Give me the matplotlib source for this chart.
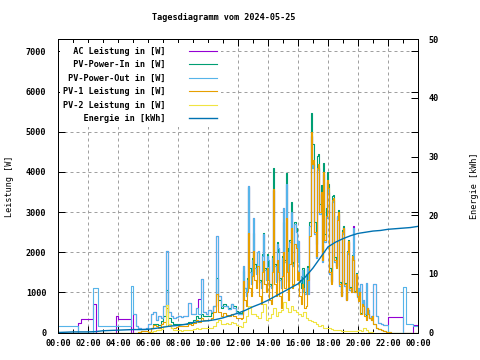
import matplotlib
matplotlib.use('Agg')
import matplotlib.pyplot as plt
import numpy as np

# Power samples: 10 min steps 00:00-12:00, 5 min steps 12:00-21:00,
# 10 min steps 21:00-24:00 (one row per hour)
ac_power = [
    0, 0, 0, 0, 0, 0,
    0, 0, 230, 340, 340, 340,
    340, 340, 700, 0, 0, 0,
    0, 0, 0, 0, 0, 400,
    340, 340, 340, 340, 340, 0,
    450, 150, 100, 80, 80, 100,
    200, 450, 500, 320, 400, 350,
    650, 2025, 500, 400, 360, 380,
    400, 380, 420, 400, 730, 450,
    450, 600, 830, 1320, 500, 450,
    570, 520, 650, 2400, 900, 650,
    650, 650, 580, 700, 620, 480,
    # 12:00 - 21:00
    450, 450, 450, 450, 1650, 1100, 900, 1300, 3650, 1500, 1200, 1800,
    2860, 1600, 1450, 2000, 2025, 1250, 1100, 1900, 2450, 1550, 1300, 1900,
    1800, 1150, 1100, 1850, 3550, 1650, 1250, 2200, 2100, 1300, 1100, 1850,
    3100, 1750, 3700, 2000, 1250, 2250, 3000, 1650, 1700, 2700, 2500, 1750,
    2275, 1250, 1400, 1550, 1000, 950, 1450, 1600, 950, 2650, 4900, 4100,
    4200, 2450, 1850, 4050, 4100, 2950, 3450, 1750, 3950, 2250, 2850, 3750,
    3500, 1450, 1250, 3250, 3300, 1750, 1650, 2900, 2950, 1150, 920, 2450,
    2600, 1150, 820, 1950, 2250, 1050, 1000, 1850, 2650, 1000, 1450, 880,
    1100, 1000, 1200, 720, 800, 450, 1225, 600, 550, 350, 400, 420,
    # 21:00 - 24:00
    1200, 400, 230, 200, 175, 175,
    380, 380, 380, 380, 380, 380,
    0, 0, 0, 0, 190, 190,
    190,
]
pv_power_in = [
    0, 0, 0, 0, 0, 0,
    0, 0, 0, 0, 0, 0,
    0, 0, 0, 0, 0, 0,
    0, 0, 0, 0, 0, 0,
    0, 0, 0, 0, 0, 0,
    0, 0, 20, 40, 40, 30,
    20, 110, 220, 210, 180, 280,
    400, 1070, 350, 250, 200, 200,
    200, 210, 210, 210, 260, 230,
    310, 400, 350, 470, 400, 400,
    420, 480, 650, 1360, 820, 600,
    700, 660, 600, 710, 650, 540,
    # 12:00 - 21:00
    510, 490, 470, 500, 1525, 1100, 1000, 1350, 3625, 1600, 1350, 1850,
    2475, 1700, 1500, 2000, 2000, 1300, 1200, 1950, 2475, 1600, 1300, 1950,
    1650, 1200, 1150, 1900, 4100, 1700, 1300, 2250, 2000, 1350, 1150, 1900,
    2750, 1800, 3980, 2100, 1300, 2300, 3250, 1700, 1750, 2750, 2600, 1800,
    1950, 1300, 1100, 1600, 1600, 1000, 1000, 1650, 1600, 2750, 5475, 4700,
    4700, 2750, 2200, 4400, 4450, 3200, 3680, 2000, 4220, 2450, 3100, 4000,
    3700, 1600, 1280, 3400, 3420, 1870, 1660, 2870, 3050, 1250, 940, 2550,
    2640, 1230, 830, 2040, 2300, 1130, 1040, 1940, 1840, 1040, 1480, 930,
    840, 1040, 490, 740, 750, 460, 360, 620, 470, 360, 310, 410,
    # 21:00 - 24:00
    220, 120, 80, 60, 30, 20,
    10, 0, 0, 0, 0, 0,
    0, 0, 0, 0, 0, 0,
    0,
]
pv_power_out = [
    170, 170, 170, 170, 170, 170,
    170, 170, 0, 0, 0, 0,
    0, 0, 1110, 1100, 170, 170,
    170, 170, 170, 170, 170, 170,
    170, 170, 170, 170, 170, 1150,
    450, 150, 100, 80, 80, 100,
    200, 450, 500, 320, 400, 350,
    650, 2025, 500, 400, 360, 380,
    400, 380, 420, 400, 730, 450,
    450, 600, 450, 1320, 500, 450,
    570, 520, 650, 2400, 900, 650,
    650, 650, 580, 700, 620, 480,
    # 12:00 - 21:00
    450, 450, 450, 450, 1650, 1100, 900, 1300, 3650, 1500, 1200, 1800,
    2860, 1600, 1450, 2000, 2025, 1250, 1100, 1900, 2450, 1550, 1300, 1900,
    1800, 1150, 1100, 1850, 3550, 1650, 1250, 2200, 2100, 1300, 1100, 1850,
    3100, 1750, 3700, 2000, 1250, 2250, 3000, 1650, 1700, 2700, 2500, 1750,
    2275, 1250, 1400, 1550, 1000, 950, 1450, 1600, 950, 2650, 4900, 4100,
    4200, 2450, 1850, 4050, 4100, 2950, 3450, 1750, 3950, 2250, 2850, 3750,
    3500, 1450, 1250, 3250, 3300, 1750, 1650, 2900, 2950, 1150, 920, 2450,
    2600, 1150, 820, 1950, 2250, 1050, 1000, 1850, 2600, 1000, 1450, 880,
    1100, 1000, 1200, 720, 800, 450, 1225, 600, 550, 350, 400, 420,
    # 21:00 - 24:00
    1200, 400, 230, 200, 175, 175,
    0, 0, 0, 0, 0, 0,
    1140, 210, 210, 210, 170, 170,
    170,
]
pv1_power = [
    0, 0, 0, 0, 0, 0,
    0, 0, 0, 0, 0, 0,
    0, 0, 0, 0, 0, 0,
    0, 0, 0, 0, 0, 0,
    0, 0, 0, 0, 0, 0,
    0, 0, 20, 40, 40, 30,
    20, 100, 180, 150, 120, 200,
    250, 600, 150, 110, 120, 140,
    150, 170, 160, 150, 200, 180,
    230, 300, 260, 350, 300, 300,
    320, 360, 500, 950, 520, 400,
    480, 430, 400, 460, 420, 360,
    # 12:00 - 21:00
    360, 350, 340, 360, 1275, 800, 650, 1000, 2480, 1100, 900, 1400,
    2025, 1300, 1100, 1650, 1650, 900, 700, 1500, 1775, 1200, 1000, 1600,
    1300, 800, 700, 1500, 3575, 1200, 900, 1800, 1500, 900, 600, 1400,
    2000, 1100, 2850, 1500, 800, 1700, 2600, 1100, 1200, 2200, 2100, 1300,
    1500, 900, 700, 1200, 1100, 600, 650, 1300, 1300, 2400, 4980, 4200,
    4300, 2500, 1900, 4100, 4200, 3000, 3500, 1800, 4000, 2300, 2900, 3800,
    3600, 1500, 1200, 3300, 3350, 1800, 1600, 2800, 3000, 1200, 900, 2500,
    2600, 1200, 800, 2000, 2270, 1100, 1000, 1900, 1800, 1000, 1450, 900,
    780, 1000, 450, 700, 650, 400, 300, 600, 450, 350, 300, 400,
    # 21:00 - 24:00
    220, 120, 80, 60, 30, 20,
    10, 0, 0, 0, 0, 0,
    0, 0, 0, 0, 0, 0,
    0,
]
# PV-2 in 10 min steps 00:00 ... 24:00
pv2_power = [
    0, 0, 0, 0, 0, 0,
    0, 0, 0, 0, 0, 0,
    0, 0, 0, 0, 0, 0,
    0, 0, 0, 0, 0, 0,
    0, 0, 0, 0, 0, 0,
    0, 0, 0, 0, 0, 0,
    0, 10, 40, 60, 60, 80,
    150, 680, 200, 100, 60, 50,
    50, 40, 50, 60, 60, 50,
    80, 100, 90, 120, 100, 100,
    100, 120, 150, 250, 300, 200,
    220, 230, 200, 250, 230, 180,
    150, 130, 250, 400, 650, 450,
    450, 400, 350, 500, 700, 300,
    350, 450, 600, 400, 500, 550,
    750, 600, 500, 650, 550, 500,
    450, 400, 500, 350, 300, 280,
    250, 200, 150, 180, 120, 100,
    100, 80, 70, 60, 50, 40,
    40, 30, 30, 40, 40, 30,
    60, 40, 100, 60, 20, 10,
    0, 0, 0, 0, 0, 0,
    0, 0, 0, 0, 0, 0,
    0, 0, 0, 0, 0, 0,
    0,
]
# energy in 30 min steps 00:00 ... 24:00
energy = [
    0.0, 0.05, 0.1, 0.1, 0.1, 0.15, 0.3, 0.35, 0.4, 0.45, 0.5, 0.5,
    0.55, 0.7, 0.9, 1.1, 1.2, 1.4, 1.7, 1.9, 2.0, 2.2, 2.5, 2.9,
    3.3, 3.8, 4.4, 4.9, 5.5, 6.2, 6.9, 7.6, 8.3, 9.5, 11.0, 12.8,
    14.6, 15.4, 16.0, 16.5, 16.9, 17.1, 17.3, 17.4, 17.6, 17.7, 17.8, 17.9,
    18.1,
]
labels = ['AC Leistung in [W]', 'PV-Power-In in [W]', 'PV-Power-Out in [W]',
          'PV-1 Leistung in [W]', 'PV-2 Leistung in [W]', 'Energie in [kWh]']
colors = ['#9400d3', '#009e73', '#56b4e9', '#e69f00', '#f0e442', '#0072b2']
hour_ticks = list(range(0, 25, 2))
hour_labels = ['%02d:00' % (h % 24) for h in hour_ticks]

plt.rcParams['font.family'] = ['DejaVu Sans Mono']
plt.rcParams['font.size'] = 6.1
plt.rcParams['font.weight'] = 'bold'

fig = plt.figure(figsize=(4.8, 3.6), dpi=100)
ax = fig.add_axes([58 / 480, 27.5 / 360, 360 / 480, 293.2 / 360])
ax2 = ax.twinx()

t_fine = np.concatenate([np.arange(72) / 6.0, 12 + np.arange(108) / 12.0,
                         21 + np.arange(19) / 6.0])
t_coarse = np.arange(len(pv2_power)) / 6.0
t_energy = np.arange(len(energy)) / 2.0
width = max(len(l) for l in labels)

series = [(t_fine, ac_power), (t_fine, pv_power_in), (t_fine, pv_power_out),
          (t_fine, pv1_power), (t_coarse, pv2_power)]
handles = []
for i, (t, vals) in enumerate(series):
    h, = ax.plot(t, vals, drawstyle='steps-post', color=colors[i],
                 lw=0.8, label=labels[i].rjust(width))
    handles.append(h)
h, = ax2.plot(t_energy, energy, color=colors[5], lw=1.0, label=labels[5].rjust(width))
handles.append(h)

ax.set_xlim(0, 24)
ax.set_ylim(0, 7300)
ax2.set_ylim(0, 50)
ax.set_xticks(hour_ticks)
ax.set_xticklabels(hour_labels)
ax.set_xticks(range(1, 24, 2), minor=True)
ax.set_yticks(range(0, 7001, 1000))
ax2.set_yticks(range(0, 51, 10))

ax.tick_params(which='major', direction='in', top=True, right=True, length=5, width=0.72)
ax.tick_params(which='minor', direction='in', top=True, right=False, length=3, width=0.72)
ax.tick_params(axis='y', pad=8.4)
ax.tick_params(axis='x', pad=4.5)
ax2.tick_params(direction='in', length=5, width=0.72, pad=7.4)
for a in (ax, ax2):
    for s in a.spines.values():
        s.set_linewidth(0.72)

ax.grid(True, which='major', color='#a0a0a0', linestyle=(0, (3, 3)), linewidth=0.72)
ax.set_ylabel('Leistung [W]')
ax2.set_ylabel('Energie [kWh]')
ax.yaxis.set_label_coords(-0.121, 0.5)
ax2.yaxis.set_label_coords(1.144, 0.5)
fig.text(224 / 480, 1 - 18 / 360, 'Tagesdiagramm vom 2024-05-25', ha='center', va='center')

leg = ax2.legend(handles=handles, loc='upper left', bbox_to_anchor=(0.0, 0.992),
                 markerfirst=False, frameon=True, fancybox=False, framealpha=1,
                 facecolor='white', edgecolor='none', handlelength=3.3,
                 handletextpad=2.8, labelspacing=0.53, borderpad=0.4, borderaxespad=0.2)

fig.savefig('out.png', dpi=100)
